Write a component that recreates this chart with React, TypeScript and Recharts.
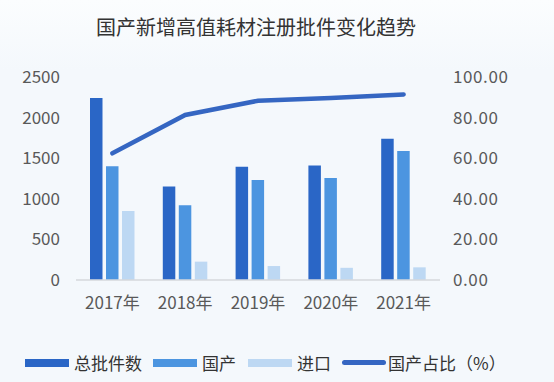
import React from 'react';
import {
  ComposedChart,
  Bar,
  Line,
  XAxis,
  YAxis,
  Legend,
} from 'recharts';

// values
const years = ['2017年', '2018年', '2019年', '2020年', '2021年'];
const totalCounts = [2240, 1150, 1395, 1410, 1740];
const domesticCounts = [1400, 922, 1232, 1256, 1588];
const importCounts = [850, 226, 172, 150, 156];
const domesticShare = [62.4, 81.3, 88.3, 89.6, 91.4];

const leftTicks = [0, 500, 1000, 1500, 2000, 2500];
const rightTicks = [0, 20, 40, 60, 80, 100];

const C_TOTAL = '#2A66C6';
const C_DOM = '#4C95E0';
const C_IMP = '#BDD8F3';
const C_LINE = '#3566C2';
const FONT = '"Noto Sans CJK SC", "Noto Sans", sans-serif';

const data = years.map((y, i) => ({
  year: y,
  total: totalCounts[i],
  domestic: domesticCounts[i],
  imported: importCounts[i],
  share: domesticShare[i],
}));

const legendItems = [
  { label: '总批件数', color: C_TOTAL, kind: 'rect', gap: 11 },
  { label: '国产', color: C_DOM, kind: 'rect', gap: 12 },
  { label: '进口', color: C_IMP, kind: 'rect', gap: 11 },
  { label: '国产占比（%）', color: C_LINE, kind: 'line', gap: 0 },
];

const renderLegend = () => (
  <div style={{ display: 'flex', alignItems: 'center', fontFamily: FONT, fontSize: 17, color: '#333', paddingLeft: 19 }}>
    {legendItems.map((it) => (
      <div key={it.label} style={{ display: 'flex', alignItems: 'center', marginRight: it.gap }}>
        <span
          style={{
            display: 'inline-block',
            width: 44,
            height: it.kind === 'line' ? 5 : 8,
            borderRadius: it.kind === 'line' ? 3 : 0,
            background: it.color,
            marginRight: it.kind === 'line' ? 2 : 5,
          }}
        />
        <span>{it.label}</span>
      </div>
    ))}
  </div>
);

export default function App() {
  return (
    <div
      style={{
        position: 'absolute',
        left: 0,
        top: 0,
        width: 554,
        height: 382,
        background: 'linear-gradient(#FBFDFE 0px, #F4F8FC 70px)',
        overflow: 'hidden',
      }}
    >
      <div
        style={{
          position: 'absolute',
          top: 13,
          left: 0,
          width: 512,
          textAlign: 'center',
          fontFamily: FONT,
          fontSize: 20,
          color: '#333',
          lineHeight: '28px',
        }}
      >
        国产新增高值耗材注册批件变化趋势
      </div>
      <ComposedChart
        width={554}
        height={382}
        data={data}
        margin={{ top: 77, right: 42, bottom: 48, left: 6 }}
        barGap={3.5}
        barSize={12.5}
      >
        <XAxis
          dataKey="year"
          height={30}
          tickLine={false}
          axisLine={{ stroke: '#D6D9DD', strokeWidth: 1.5 }}
          tick={{ fill: '#595959', fontSize: 17, fontFamily: FONT }}
          tickMargin={11}
        />
        <YAxis
          yAxisId="left"
          width={70}
          domain={[0, 2500]}
          ticks={leftTicks}
          axisLine={false}
          tickLine={false}
          tickMargin={10}
          tick={{ fill: '#595959', fontSize: 17, fontFamily: FONT }}
        />
        <YAxis
          yAxisId="right"
          orientation="right"
          width={72}
          domain={[0, 100]}
          ticks={rightTicks}
          axisLine={false}
          tickLine={false}
          tickMargin={7}
          tickFormatter={(v: number) => v.toFixed(2)}
          tick={{ fill: '#595959', fontSize: 17, fontFamily: FONT, letterSpacing: 0.6 }}
        />
        <Legend verticalAlign="bottom" height={24} content={renderLegend} wrapperStyle={{ bottom: 8 }} />
        <Bar yAxisId="left" dataKey="total" name="总批件数" fill={C_TOTAL} isAnimationActive={false} />
        <Bar yAxisId="left" dataKey="domestic" name="国产" fill={C_DOM} isAnimationActive={false} />
        <Bar yAxisId="left" dataKey="imported" name="进口" fill={C_IMP} isAnimationActive={false} />
        <Line
          yAxisId="right"
          type="linear"
          dataKey="share"
          name="国产占比（%）"
          stroke={C_LINE}
          strokeWidth={4.5}
          strokeLinecap="round"
          dot={false}
          activeDot={false}
          isAnimationActive={false}
        />
      </ComposedChart>
    </div>
  );
}
